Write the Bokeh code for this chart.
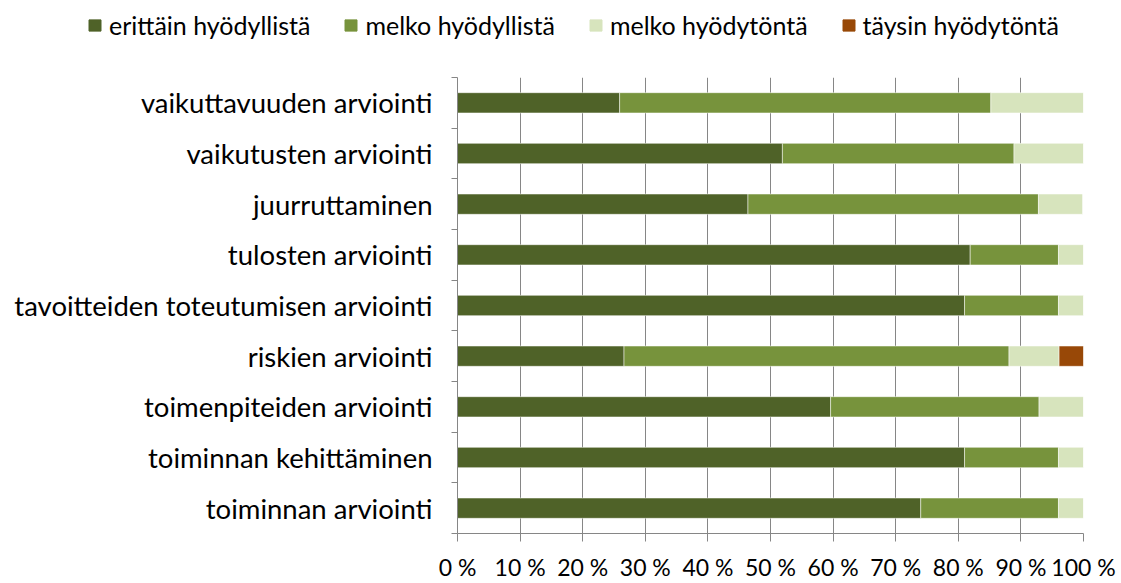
from bokeh.plotting import figure
from bokeh.models import ColumnDataSource, Range1d, FixedTicker, Legend
from bokeh.layouts import column, row
from bokeh.embed import file_html
from bokeh.resources import INLINE

# Data (top to bottom as in the reference)
categories = [
    "vaikuttavuuden arviointi",
    "vaikutusten arviointi",
    "juurruttaminen",
    "tulosten arviointi",
    "tavoitteiden toteutumisen arviointi",
    "riskien arviointi",
    "toimenpiteiden arviointi",
    "toiminnan kehittäminen",
    "toiminnan arviointi",
]
erittain_hyodyllista = [25.9, 51.9, 46.4, 81.9, 81.0, 26.6, 59.6, 81.0, 74.0]
melko_hyodyllista = [59.3, 37.0, 46.4, 14.1, 15.0, 61.5, 33.3, 15.0, 22.0]
melko_hyodytonta = [14.8, 11.1, 7.1, 4.0, 4.0, 8.0, 7.1, 4.0, 4.0]
taysin_hyodytonta = [0, 0, 0, 0, 0, 3.9, 0, 0, 0]
series_names = ["erittäin hyödyllistä", "melko hyödyllistä", "melko hyödytöntä", "täysin hyödytöntä"]
x_ticks = [0, 10, 20, 30, 40, 50, 60, 70, 80, 90, 100]

colors = ["#4F6228", "#77933C", "#D7E4BD", "#984807"]
FONT = "Lato"
GRAY = "#868686"

n = len(categories)
ypos = [n - 1 - i + 0.5 for i in range(n)]
keys = ["s0", "s1", "s2", "s3"]
src = ColumnDataSource(dict(y=ypos, s0=erittain_hyodyllista, s1=melko_hyodyllista,
                            s2=melko_hyodytonta, s3=taysin_hyodytonta))

W = 1121
H = 583
LEG_H = 50

# ---- legend strip (its bars lie outside its y range; only the legend shows) ----
lf = figure(width=W, height=LEG_H, output_backend="svg", toolbar_location=None,
            x_range=Range1d(0, 100), y_range=Range1d(100, 101),
            min_border_left=0, min_border_right=0, min_border_top=0, min_border_bottom=0)
lf.axis.visible = False
lf.grid.grid_line_color = None
lf.outline_line_color = None
leg_renderers = lf.hbar_stack(keys, y="y", height=0.4, color=colors, source=src)

legend = Legend(items=[(nm, [r]) for nm, r in zip(series_names, leg_renderers)],
                orientation="horizontal", location=(87, 10))
legend.label_text_font = FONT
legend.label_text_font_size = "25px"
legend.label_text_color = "#000000"
legend.glyph_width = 15
legend.glyph_height = 14
legend.label_standoff = 7
legend.spacing = 33
legend.padding = 0
legend.margin = 0
legend.border_line_color = None
legend.background_fill_alpha = 0
lf.add_layout(legend, "center")

# ---- main chart ----
p = figure(width=W, height=H - LEG_H, output_backend="svg", toolbar_location=None,
           x_range=Range1d(0, 100), y_range=Range1d(0, n),
           min_border_left=457, min_border_right=W - 1083, min_border_top=77 - LEG_H,
           min_border_bottom=48)
p.outline_line_color = None

p.hbar_stack(keys, y="y", height=0.4, color=colors, line_color="white",
             line_width=0.5, source=src)

# x axis
p.xaxis.ticker = FixedTicker(ticks=x_ticks, minor_ticks=[])
p.xaxis.major_label_overrides = {t: f"{t} %" for t in x_ticks}
p.xaxis.major_label_text_font = FONT
p.xaxis.major_label_text_font_size = "23px"
p.xaxis.major_label_text_color = "#000000"
p.xaxis.axis_line_color = GRAY
p.xaxis.major_tick_line_color = GRAY
p.xaxis.major_tick_out = 8
p.xaxis.major_tick_in = 0
p.xaxis.major_label_standoff = 11

# y axis: labels at centers, tick marks at boundaries
p.yaxis.ticker = FixedTicker(ticks=ypos, minor_ticks=list(range(n + 1)))
p.yaxis.major_label_overrides = {y: c for y, c in zip(ypos, categories)}
p.yaxis.major_label_text_font = FONT
p.yaxis.major_label_text_font_size = "27.5px"
p.yaxis.major_label_text_color = "#000000"
p.yaxis.axis_line_color = GRAY
p.yaxis.major_tick_line_color = None
p.yaxis.major_tick_out = 0
p.yaxis.major_tick_in = 0
p.yaxis.minor_tick_line_color = GRAY
p.yaxis.minor_tick_out = 6
p.yaxis.minor_tick_in = 0
p.yaxis.major_label_standoff = 19

p.xgrid.grid_line_color = GRAY
p.xgrid.grid_line_width = 1
p.ygrid.grid_line_color = None

layout = column(row(lf), p, spacing=0)
open("out.html", "w").write(file_html(layout, INLINE))
